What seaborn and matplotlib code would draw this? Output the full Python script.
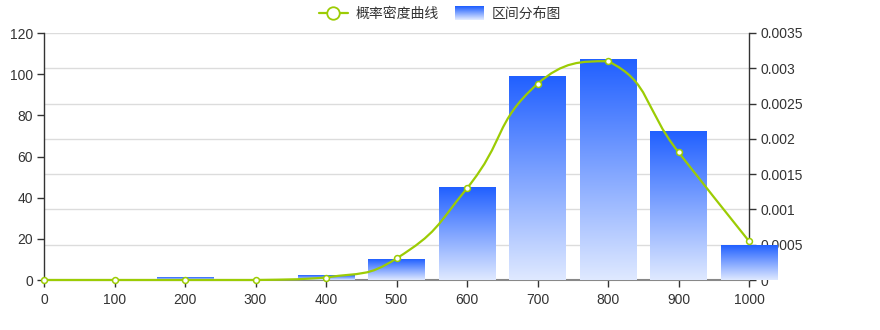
import numpy as np
import pandas as pd
import matplotlib
matplotlib.use("Agg")
import matplotlib.pyplot as plt
import seaborn as sns
from matplotlib.path import Path
from matplotlib.patches import PathPatch, Rectangle
from matplotlib.lines import Line2D
from matplotlib.legend_handler import HandlerBase

# ---------------- data ----------------
bar_x = [200, 400, 500, 600, 700, 800, 900, 1000]
bar_counts = [1, 2, 10, 45, 99, 107, 72, 17]

dens_x = [0, 100, 200, 300, 400, 500, 600, 700, 800, 900, 1000]
dens_y = [0.0, 0.0, 0.0, 0.0, 0.000035, 0.000305, 0.0013, 0.00278, 0.0031, 0.00181, 0.00055]

x_ticks = [0, 100, 200, 300, 400, 500, 600, 700, 800, 900, 1000]
left_ticks = [0, 20, 40, 60, 80, 100, 120]
right_ticks = [0, 0.0005, 0.001, 0.0015, 0.002, 0.0025, 0.003, 0.0035]
right_labels = ["0", "0.0005", "0.001", "0.0015", "0.002", "0.0025", "0.003", "0.0035"]

line_label = "概率密度曲线"
bar_label = "区间分布图"

# ---------------- style ----------------
sns.set_theme(style="white")
plt.rcParams["font.family"] = ["Liberation Sans", "Noto Sans CJK SC", "DejaVu Sans"]
LINE_C = "#9ccc04"
TOP_C = np.array([0x21, 0x60, 0xff]) / 255
BOT_C = np.array([0xdf, 0xe9, 0xff]) / 255
TXT = "#333333"

fig = plt.figure(figsize=(8.8, 3.3), dpi=100)
fig.patch.set_facecolor("white")
rect = [44 / 880, 1 - 280 / 330, (749 - 44) / 880, (280 - 33) / 330]

axr = fig.add_axes(rect, zorder=0)
ax = fig.add_axes(rect, zorder=1, sharex=axr)
ax.patch.set_visible(False)
axl = fig.add_axes(rect, zorder=2, sharex=axr)
axl.patch.set_visible(False)

XMIN, XMAX = 0, 1000
YL = (0, 120)
YR = (0, 0.0035)

# --- right axis ticks & grid
axr.set_xlim(XMIN, XMAX)
axr.set_ylim(*YR)
axr.yaxis.tick_right()
axr.set_yticks(right_ticks)
axr.set_yticklabels(right_labels)
axr.grid(axis="y", color="#dcdcdc", linewidth=1)
axr.grid(axis="x", visible=False)
for s in ["top", "left", "bottom"]:
    axr.spines[s].set_visible(False)
axr.spines["right"].set_color(TXT)
axr.spines["right"].set_linewidth(1)
axr.tick_params(axis="y", which="both", right=True, left=False, length=5, width=1,
                color=TXT, labelcolor=TXT, labelsize=10, pad=3)
axr.tick_params(axis="x", bottom=False, labelbottom=False)

# --- bars
df = pd.DataFrame({"x": bar_x, "count": bar_counts})
sns.barplot(data=df, x="x", y="count", ax=ax, native_scale=True, width=0.8,
            color=TOP_C, saturation=1, edgecolor="none")
ax.set_xlim(XMIN, XMAX)
ax.set_ylim(*YL)
grad = np.linspace(0, 1, 256)[:, None]
cols = TOP_C[None, :] * (1 - grad) + BOT_C[None, :] * grad
img = cols[:, None, :]
for p in list(ax.patches):
    x0, w, h = p.get_x(), p.get_width(), p.get_height()
    p.set_clip_on(False)
    if h <= 0:
        continue
    im = ax.imshow(img, extent=[x0, x0 + w, 0, h], origin="upper", aspect="auto",
                   zorder=3, interpolation="bilinear")
    im.set_clip_on(False)
ax.set_xlim(XMIN, XMAX)
ax.set_ylim(*YL)
ax.set_yticks(left_ticks)
ax.set_xticks(x_ticks)
ax.set_xlabel("")
ax.set_ylabel("")
for s in ["top", "right"]:
    ax.spines[s].set_visible(False)
ax.spines["left"].set_color(TXT)
ax.spines["left"].set_linewidth(1)
ax.spines["bottom"].set_color("#888888")
ax.spines["bottom"].set_linewidth(1.5)
ax.tick_params(axis="y", left=True, length=5, width=1, color=TXT, labelcolor=TXT,
               labelsize=10, pad=3)
ax.tick_params(axis="x", bottom=True, length=5, width=1, color=TXT, labelcolor=TXT,
               labelsize=10, pad=4)

# --- smooth density line (bezier through points, control points clamped to data box)
axl.set_xlim(XMIN, XMAX)
axl.set_ylim(*YR)
axl.axis("off")
fig.canvas.draw()
pts = axl.transData.transform(np.column_stack([dens_x, dens_y]))
n = len(pts)
smooth = 0.5
lo = pts.min(axis=0)
hi = pts.max(axis=0)
cp_in = pts.copy()
cp_out = pts.copy()
for i in range(n):
    prev = pts[i - 1] if i > 0 else pts[i]
    nxt = pts[i + 1] if i < n - 1 else pts[i]
    v = nxt - prev
    d0 = np.hypot(*(pts[i] - prev))
    d1 = np.hypot(*(pts[i] - nxt))
    s = d0 + d1
    if s > 0:
        d0 /= s
        d1 /= s
    cp_in[i] = np.clip(pts[i] - v * smooth * d0, lo, hi)
    cp_out[i] = np.clip(pts[i] + v * smooth * d1, lo, hi)
verts = [pts[0]]
codes = [Path.MOVETO]
for i in range(n - 1):
    verts += [cp_out[i], cp_in[i + 1], pts[i + 1]]
    codes += [Path.CURVE4] * 3
inv = axl.transData.inverted()
verts_data = inv.transform(np.array(verts))
path = Path(verts_data, codes)
axl.add_patch(PathPatch(path, facecolor="none", edgecolor=LINE_C, linewidth=1.6,
                        zorder=4, clip_on=False))
sns.scatterplot(x=dens_x, y=dens_y, ax=axl, marker="o", s=18, color="white",
                edgecolor=LINE_C, linewidth=1.1, zorder=5, clip_on=False, legend=False)
axl.set_xlim(XMIN, XMAX)
axl.set_ylim(*YR)


# --- legend
class GradHandler(HandlerBase):
    def create_artists(self, legend, orig_handle, xdescent, ydescent, width, height,
                       fontsize, trans):
        arts = []
        nstr = 14
        hh = height * 1.45
        y0 = -ydescent - (hh - height) / 2
        for k in range(nstr):
            t = k / (nstr - 1)
            c = TOP_C * (1 - t) + BOT_C * t
            r = Rectangle((-xdescent, y0 + hh * (1 - (k + 1) / nstr)), width, hh / nstr,
                          facecolor=c, edgecolor="none", transform=trans)
            arts.append(r)
        return arts


h_line = Line2D([], [], color=LINE_C, linewidth=1.6, marker="o", markersize=9,
                markerfacecolor="white", markeredgecolor=LINE_C, markeredgewidth=1.3)
h_bar = Rectangle((0, 0), 1, 1)
fig.legend([h_line, h_bar], [line_label, bar_label], loc="center",
           bbox_to_anchor=(0.5, 1 - 14 / 330), ncol=2, frameon=False,
           fontsize=10, handlelength=2.1, handletextpad=0.6, columnspacing=1.1,
           labelcolor=TXT, handler_map={h_bar: GradHandler()})

fig.savefig("out.png", dpi=100, facecolor="white")
